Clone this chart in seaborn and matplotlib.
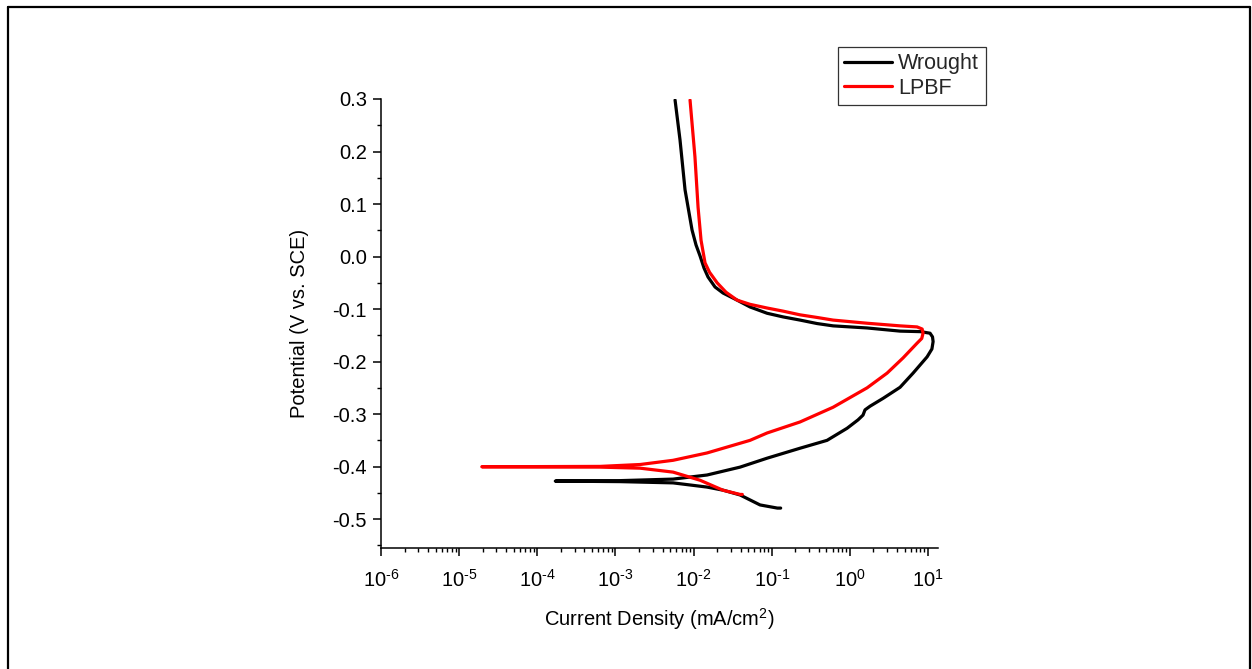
import matplotlib
matplotlib.use("Agg")
import matplotlib.pyplot as plt
from matplotlib.lines import Line2D
from matplotlib.ticker import (LogLocator, MultipleLocator, FuncFormatter,
                               NullFormatter, FormatStrFormatter)
import numpy as np
import pandas as pd
import seaborn as sns

# Potentiodynamic polarization scans (cathodic end -> Ecorr -> anodic end)
wrought_current = [0.130, 0.118, 0.0708, 0.0393, 0.0240, 0.01486, 0.00546, 0.00115,
                   1.7e-4, 0.00115, 0.00546, 0.01486, 0.0393, 0.0871, 0.230,
                   0.510, 0.920, 1.27, 1.47, 1.56, 1.81, 2.66, 4.38, 6.43,
                   9.72, 11.2, 11.6, 11.4, 10.6, 8.0, 4.38, 1.66, 0.609,
                   0.380, 0.230, 0.140, 0.0871, 0.0527, 0.0360, 0.0238,
                   0.0188, 0.0153, 0.0136, 0.0121, 0.01074, 0.00955,
                   0.00777, 0.00670, 0.00579]
wrought_potential = [-0.479, -0.479, -0.473, -0.454, -0.445, -0.439, -0.431, -0.4286,
                     -0.4276, -0.4267, -0.4238, -0.416, -0.401, -0.384, -0.365,
                     -0.350, -0.327, -0.311, -0.302, -0.292, -0.285, -0.270,
                     -0.249, -0.222, -0.191, -0.176, -0.162, -0.153, -0.146,
                     -0.143, -0.142, -0.136, -0.132, -0.1276, -0.121, -0.115,
                     -0.108, -0.096, -0.083, -0.0695, -0.058, -0.039, -0.022,
                     0.001, 0.022, 0.0505, 0.127, 0.222, 0.298]

lpbf_current = [0.0420, 0.0393, 0.0238, 0.0121, 0.00546, 0.00207, 6.35e-4, 1.95e-5,
                6.35e-4, 0.00207, 0.00546, 0.01486, 0.0527, 0.0871, 0.230,
                0.609, 1.66, 2.99, 4.79, 7.23, 8.30, 8.63, 8.40, 7.23, 4.38,
                1.66, 0.609, 0.380, 0.230, 0.140, 0.0871, 0.0527, 0.0360,
                0.0260, 0.0200, 0.0160, 0.0140, 0.01245, 0.0114, 0.0104, 0.0090]
lpbf_potential = [-0.453, -0.453, -0.445, -0.426, -0.4105, -0.403, -0.401, -0.4003,
                  -0.3996, -0.396, -0.388, -0.374, -0.350, -0.336, -0.315,
                  -0.287, -0.250, -0.222, -0.193, -0.165, -0.156, -0.146,
                  -0.138, -0.134, -0.132, -0.127, -0.121, -0.116, -0.111,
                  -0.104, -0.098, -0.091, -0.083, -0.068, -0.050, -0.030,
                  -0.012, 0.031, 0.094, 0.190, 0.298]

samples = ["Wrought", "LPBF"]
colors = {"Wrought": "#000000", "LPBF": "#ff0000"}

df = pd.concat([
    pd.DataFrame({"Current": wrought_current, "Potential": wrought_potential,
                  "Sample": "Wrought"}),
    pd.DataFrame({"Current": lpbf_current, "Potential": lpbf_potential,
                  "Sample": "LPBF"}),
], ignore_index=True)

sns.set_theme(style="ticks")
plt.rcParams["font.family"] = ["Liberation Sans", "DejaVu Sans"]
plt.rcParams["mathtext.fontset"] = "custom"
plt.rcParams["mathtext.rm"] = "Liberation Sans"
plt.rcParams["mathtext.it"] = "Liberation Sans:italic"
plt.rcParams["mathtext.default"] = "regular"
plt.rcParams["axes.unicode_minus"] = False

fig = plt.figure(figsize=(12.52, 6.69), dpi=100)
ax = fig.add_axes([381 / 1252, 1 - 548 / 669, (938 - 381) / 1252, (548 - 99) / 669])

for s in samples:
    sns.lineplot(data=df[df["Sample"] == s], x="Current", y="Potential",
                 sort=False, estimator=None, color=colors[s], lw=2.3,
                 ax=ax, legend=False)

ax.set_xscale("log")
ax.set_xlim(1e-6, 13.4)
ax.set_ylim(-0.555, 0.30)


def decade_label(v, _pos):
    exp = int(round(np.log10(v)))
    return r"10$^{\text{%d}}$" % exp


ax.xaxis.set_major_locator(LogLocator(base=10, numticks=20))
ax.xaxis.set_minor_locator(LogLocator(base=10, subs=np.arange(2, 10), numticks=100))
ax.xaxis.set_major_formatter(FuncFormatter(decade_label))
ax.xaxis.set_minor_formatter(NullFormatter())
ax.yaxis.set_major_locator(MultipleLocator(0.1))
ax.yaxis.set_minor_locator(MultipleLocator(0.05))
ax.yaxis.set_major_formatter(FormatStrFormatter("%.1f"))

ax.tick_params(which="major", direction="out", length=6, width=1.1,
               labelsize=14.5, colors="black", pad=4)
ax.tick_params(axis="x", which="major", pad=9)
ax.tick_params(which="minor", direction="out", length=3, width=1.0, colors="black")

for side in ["top", "right"]:
    ax.spines[side].set_visible(False)
for side in ["left", "bottom"]:
    ax.spines[side].set_linewidth(1.1)
    ax.spines[side].set_color("black")

ax.set_xlabel("Current Density (mA/cm$^2$)", fontsize=14.5, color="black", labelpad=11)
ax.set_ylabel("Potential (V vs. SCE)", fontsize=14.5, color="black", labelpad=17)

handles = [Line2D([], [], color=colors[s], lw=2.3) for s in samples]
leg = ax.legend(handles, samples, loc="upper left",
                bbox_to_anchor=(838 / 1252, 1 - 47 / 669),
                bbox_transform=fig.transFigure, fontsize=15.5, frameon=True,
                fancybox=False, borderpad=0.3, labelspacing=0.15,
                handlelength=2.2, handletextpad=0.3, borderaxespad=0)
leg.get_frame().set_edgecolor("black")
leg.get_frame().set_linewidth(0.9)

# outer frame around the figure
fx0, fx1, fy1 = 8 / 1252, 1250 / 1252, 1 - 7 / 669
for xs, ys in [([fx0, fx1], [fy1, fy1]), ([fx0, fx0], [fy1, 0]), ([fx1, fx1], [fy1, 0])]:
    fig.add_artist(Line2D(xs, ys, transform=fig.transFigure, color="black", lw=1.6))

fig.savefig("out.png", dpi=100)
